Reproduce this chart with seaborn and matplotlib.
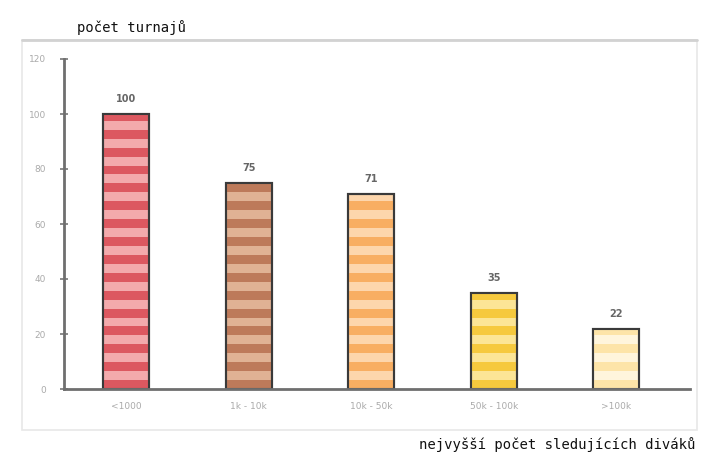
import matplotlib
matplotlib.use("Agg")
import matplotlib.pyplot as plt
import matplotlib.patches as mpatches
import matplotlib.lines as mlines
import numpy as np
import pandas as pd
import seaborn as sns

# Tournaments grouped by peak viewer count
categories = ["<1000", "1k - 10k", "10k - 50k", "50k - 100k", ">100k"]
tournaments = [100, 75, 71, 35, 22]
yticks = [0, 20, 40, 60, 80, 100, 120]

# Two-tone stripe colours for each bar (base, stripe)
base_colors = ["#f3aaac", "#e0b294", "#fdd6ac", "#fce596", "#fff5dc"]
stripe_colors = ["#dc5860", "#bd7a5a", "#f8ae62", "#f6c93e", "#fde4a8"]

sns.set_theme(style="white")
plt.rcParams["font.family"] = ["DejaVu Sans"]

fig = plt.figure(figsize=(7.16, 4.61), dpi=100)
ax = fig.add_axes([64 / 716, 72 / 461, 626 / 716, 330 / 461])

df = pd.DataFrame({"kategorie": categories, "turnaje": tournaments})
sns.barplot(data=df, x="kategorie", y="turnaje", hue="kategorie",
            palette=base_colors, legend=False, width=0.375,
            edgecolor="#3a3a3a", linewidth=1.5, ax=ax, saturation=1)

# horizontal stripes clipped to each bar
period = 6.5
for patch, sc in zip(ax.patches, stripe_colors):
    h = patch.get_height()
    y = 0.0
    while y < h:
        band = ax.axhspan(y, min(y + period / 2, h), color=sc, lw=0, zorder=patch.get_zorder() + 0.1)
        band.set_clip_path(patch)
        y += period
    # redraw the outline on top of the stripes
    x0 = patch.get_x()
    ax.add_patch(mpatches.Rectangle((x0, 0), patch.get_width(), h, fill=False,
                                    edgecolor="#3a3a3a", lw=1.5,
                                    zorder=patch.get_zorder() + 0.2))

for cont in ax.containers:
    ax.bar_label(cont, padding=7, fontsize=7, color="#666666", fontweight="bold")

ax.set_ylim(0, 120)
ax.set_xlim(-0.506, 4.60)
ax.set_yticks(yticks)
ax.set_xlabel("")
ax.set_ylabel("")
ax.tick_params(axis="y", direction="inout", length=6, width=1.2, color="#777777",
               labelsize=6.5, labelcolor="#aaaaaa", pad=10, left=True)
ax.tick_params(axis="x", length=0, labelsize=6.5, labelcolor="#aaaaaa", pad=9)

for s in ["top", "right"]:
    ax.spines[s].set_visible(False)
for s in ["left", "bottom"]:
    ax.spines[s].set_color("#6f6f6f")
    ax.spines[s].set_linewidth(2)

# light panel frame around the plotting area
frame = mpatches.Rectangle((22 / 716, 31 / 461), 675 / 716, 390 / 461,
                           transform=fig.transFigure, fill=False,
                           edgecolor="#e8e8e8", lw=1.2)
fig.add_artist(frame)
fig.add_artist(mlines.Line2D([22 / 716, 697 / 716], [421 / 461, 421 / 461],
                             transform=fig.transFigure, color="#d2d2d2", lw=2))

fig.text(77 / 716, 1 - 28 / 461, "počet turnajů", fontsize=10,
         family="DejaVu Sans Mono", color="#111111", va="center", ha="left")
fig.text(695 / 716, 1 - 445 / 461, "nejvyšší počet sledujících diváků", fontsize=10,
         family="DejaVu Sans Mono", color="#111111", va="center", ha="right")

fig.savefig("out.png", dpi=100)
